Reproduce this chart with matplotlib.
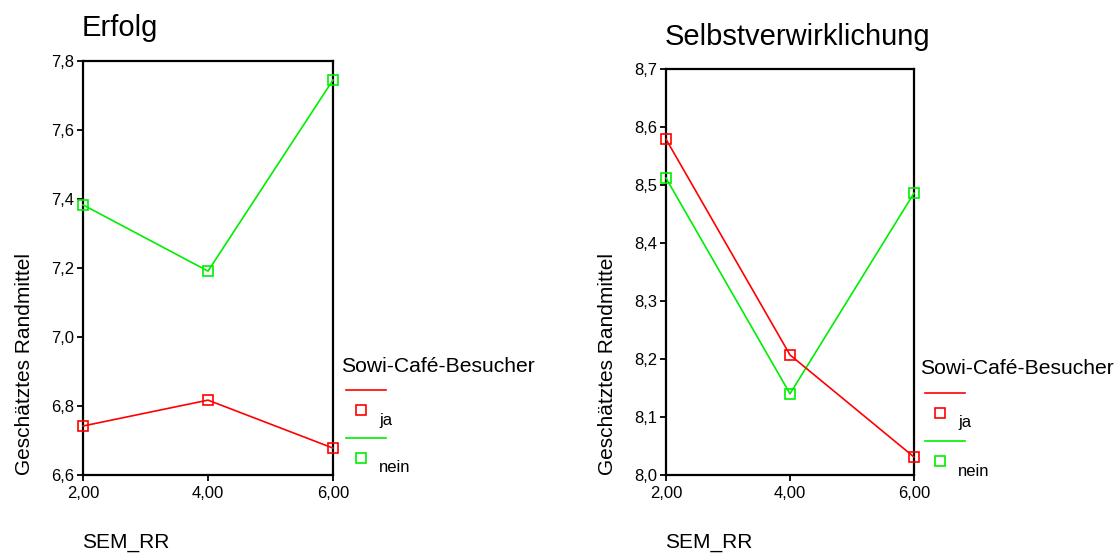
import matplotlib.pyplot as plt
from matplotlib.lines import Line2D
from matplotlib.ticker import FuncFormatter

plt.rcParams['font.family'] = ['Liberation Sans', 'DejaVu Sans']

# Estimated marginal means per semester group
sem_rr = [2.0, 4.0, 6.0]
erfolg_ja = [6.742, 6.817, 6.678]
erfolg_nein = [7.383, 7.191, 7.745]
selbst_ja = [8.579, 8.207, 8.031]
selbst_nein = [8.512, 8.140, 8.486]

erfolg_yticks = [6.6, 6.8, 7.0, 7.2, 7.4, 7.6, 7.8]
selbst_yticks = [8.0, 8.1, 8.2, 8.3, 8.4, 8.5, 8.6, 8.7]

RED = '#ff0000'
GREEN = '#00ee00'
W, H = 1120, 557


def comma(fmt):
    return FuncFormatter(lambda v, p: fmt.format(v).replace('.', ','))


def draw_panel(ax, title, ja, nein, yticks, title_pad, label_x):
    for vals, col in [(nein, GREEN), (ja, RED)]:
        ax.plot(sem_rr, vals, color=col, lw=1.2, marker='s', markersize=7,
                markerfacecolor='none', markeredgecolor=col, markeredgewidth=1.2,
                clip_on=False, zorder=3)
    ax.set_xlim(2, 6)
    ax.set_ylim(yticks[0], yticks[-1])
    ax.set_xticks(sem_rr)
    ax.set_yticks(yticks)
    ax.xaxis.set_major_formatter(comma('{:.2f}'))
    ax.yaxis.set_major_formatter(comma('{:.1f}'))
    ax.tick_params(direction='out', length=4, width=1.3, labelsize=12)
    ax.tick_params(axis='x', pad=4)
    ax.tick_params(axis='y', pad=2.5)
    for s in ax.spines.values():
        s.set_linewidth(1.6)
    ax.set_title(title, loc='left', fontsize=21, pad=title_pad, x=-0.006)
    ax.set_ylabel('Geschätztes Randmittel', fontsize=15, loc='bottom')
    ax.yaxis.set_label_coords(label_x, 0)


def draw_legend(fig, x, y):
    # x, y in pixels from the top-left corner of the figure
    fig.text(x / W, 1 - y / H, 'Sowi-Café-Besucher', fontsize=15.2, va='center', ha='left')
    for i, (col, lab) in enumerate([(RED, 'ja'), (GREEN, 'nein')]):
        ly = y + 24 + i * 48
        fig.add_artist(Line2D([(x + 5) / W, (x + 45) / W], [1 - ly / H, 1 - ly / H],
                              color=col, lw=1.2))
        fig.add_artist(Line2D([(x + 20) / W], [1 - (ly + 20) / H], marker='s',
                              markersize=6.5, markerfacecolor='none',
                              markeredgecolor=col, markeredgewidth=1.2, lw=0))
        fig.text((x + 38) / W, 1 - (ly + 30) / H, lab, fontsize=12, va='center', ha='left')


fig = plt.figure(figsize=(W / 100, H / 100), dpi=100)
ax1 = fig.add_axes([83 / W, 1 - 475 / H, 250 / W, 414 / H])
ax2 = fig.add_axes([666 / W, 1 - 475 / H, 248 / W, 406 / H])

draw_panel(ax1, 'Erfolg', erfolg_ja, erfolg_nein, erfolg_yticks, 18, -0.196)
draw_panel(ax2, 'Selbstverwirklichung', selbst_ja, selbst_nein, selbst_yticks, 17, -0.198)

fig.text(82 / W, 1 - 543 / H, 'SEM_RR', fontsize=15, va='center', ha='left')
fig.text(665 / W, 1 - 543 / H, 'SEM_RR', fontsize=15, va='center', ha='left')

draw_legend(fig, 341, 366)
draw_legend(fig, 920, 369)

fig.savefig('out.png', dpi=100)
